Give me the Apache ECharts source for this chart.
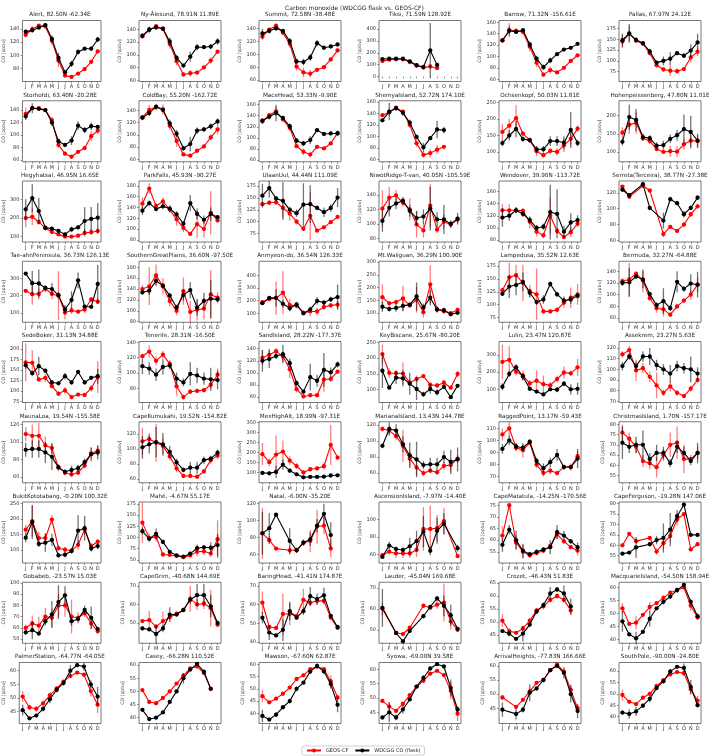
<!DOCTYPE html>
<html><head><meta charset="utf-8">
<script src="https://cdn.jsdelivr.net/npm/echarts@6/dist/echarts.min.js"></script>
<style>html,body{margin:0;padding:0;background:#fff}#c{width:709px;height:756px}</style>
</head><body><div id="c"></div>
<script>
const stations = [
"Alert, 82.50N -62.34E","Ny-Ålesund, 78.91N 11.89E","Summit, 72.58N -38.48E","Tiksi, 71.59N 128.92E","Barrow, 71.32N -156.61E","Pallas, 67.97N 24.12E",
"Storhofdi, 63.40N -20.28E","ColdBay, 55.20N -162.72E","MaceHead, 53.33N -9.90E","ShemyaIsland, 52.72N 174.10E","Ochsenkopf, 50.03N 11.81E","Hohenpeissenberg, 47.80N 11.01E",
"Hegyhatsal, 46.95N 16.65E","ParkFalls, 45.93N -90.27E","UlaanUul, 44.44N 111.09E","NiwotRidge-T-van, 40.05N -105.59E","Wendover, 39.90N -113.72E","Serreta(Terceira), 38.77N -27.38E",
"Tae-ahnPeninsula, 36.73N 126.13E","SouthernGreatPlains, 36.60N -97.50E","Anmyeon-do, 36.54N 126.33E","Mt.Waliguan, 36.29N 100.90E","Lampedusa, 35.52N 12.63E","Bermuda, 32.27N -64.88E",
"SedeBoker, 31.13N 34.88E","Tenerife, 28.31N -16.50E","SandIsland, 28.22N -177.37E","KeyBiscane, 25.67N -80.20E","Lulin, 23.47N 120.87E","Assekrem, 23.27N 5.63E",
"MaunaLoa, 19.54N -155.58E","CapeKumukahi, 19.52N -154.82E","MexHighAlt, 18.99N -97.31E","MarianaIsland, 13.43N 144.78E","RaggedPoint, 13.17N -59.43E","ChristmasIsland, 1.70N -157.17E",
"BukitKototabang, -0.20N 100.32E","Mahé, -4.67N 55.17E","Natal, -6.00N -35.20E","AscensionIsland, -7.97N -14.40E","CapeMatatula, -14.25N -170.56E","CapeFerguson, -19.28N 147.06E",
"Gobabeb, -23.57N 15.03E","CapeGrim, -40.68N 144.69E","BaringHead, -41.41N 174.87E","Lauder, -45.04N 169.68E","Crozet, -46.43N 51.83E","MacquarieIsland, -54.50N 158.94E",
"PalmerStation, -64.77N -64.05E","Casey, -66.28N 110.52E","Mawson, -67.60N 62.87E","Syowa, -69.00N 39.58E","ArrivalHeights, -77.83N 166.66E","SouthPole, -90.00N -24.80E"
];
const months = ["Jan","Feb","Mar","Apr","May","Jun","Jul","Aug","Sep","Oct","Nov","Dec"];
const monthTicks = ["J","F","M","A","M","J","J","A","S","O","N","D"];
const _ = null;

// GEOS-CF (red)
const geosCF = [
[131,140,145,144,122,92,69,67,72,79,90,106],
[129,139,145,141,117,90,69,71,72,80,91,105],
[127,138,144,133,116,81,72,70,76,80,92,106],
[130,142,145,145,122,92,75,85,70,_,_,_],
[128,146,145,143,117,89,68,76,72,80,92,102],
[145,163,147,140,118,90,80,77,76,81,108,121],
[134,143,143,140,124,84,70,65,73,79,98,107],
[129,141,146,142,115,90,68,66,74,81,96,109],
[130,141,148,133,118,85,75,70,84,81,90,109],
[137,142,150,143,120,88,68,71,77,82,_,_],
[161,180,203,156,135,102,90,103,100,120,140,171],
[153,175,180,138,130,108,100,102,101,121,131,130],
[200,207,179,145,125,112,100,100,105,120,124,130],
[147,175,143,151,136,118,102,91,109,100,130,116],
[137,140,141,129,117,100,85,112,81,88,99,110],
[121,136,139,129,120,99,91,125,92,103,99,106],
[129,129,129,128,110,94,88,120,95,85,93,107],
[128,115,_,129,123,_,68,77,72,80,93,103],
[228,208,210,240,210,200,103,115,108,120,178,165],
[140,145,165,145,118,100,136,98,102,104,130,124],
[188,212,220,262,165,160,105,115,115,150,163,168],
[162,138,143,157,130,152,103,212,114,107,100,112],
[128,153,157,142,126,120,87,87,90,104,113,120],
[123,126,136,124,94,77,75,66,80,90,100,117],
[168,167,127,131,111,93,101,85,91,90,106,133],
[122,128,116,124,112,83,69,76,77,78,85,98],
[125,130,136,127,106,73,61,63,63,89,90,102],
[213,153,152,151,122,134,143,115,113,122,106,150],
[260,272,202,180,135,150,130,123,160,198,193,228],
[114,118,99,101,93,85,78,84,78,75,82,90],
[109,107,107,96,93,71,65,63,65,73,87,90],
[110,113,108,104,90,74,64,64,63,70,85,91],
[192,152,190,205,160,133,101,117,121,132,238,175],
[115,113,106,94,78,67,60,63,61,69,70,78],
[105,110,94,92,98,80,73,75,73,78,78,87],
[76,73,69,62,61,59,65,70,71,63,63,66],
[165,193,138,138,198,105,100,97,116,165,112,126],
[133,99,101,62,61,59,56,60,68,69,64,96],
[85,77,67,_,65,65,74,76,93,94,67,_],
[59,63,61,61,61,65,89,89,90,98,_,58],
[62,75,59,55,53.5,54.5,55.5,57.5,62.5,59.5,57,55.5],
[60,65.5,62,_,63.5,57,61,64.5,72.5,75,58,60.5],
[60,64,62,70,69,80,80,70,69,73,64,57],
[51,51.5,48,51,53,55,57,63,60,60.5,58,49],
[61,48,47.5,55,55,54,62.5,61,62,62,53,47.5],
[60,_,48.5,48,51,_,61.5,60.5,62,63,54,50],
[50.5,46.5,45.8,47.5,50.5,54.5,56,58.5,60,58.5,54.5,_],
[52,46,46.5,49.5,52.5,54,56,58,59,60,53,48.5],
[50.5,46.5,46,48,51,53.5,56,58,59.3,58.5,52.5,47.5],
[50.5,46,45.5,47.5,50,53,56,58.8,59.5,57,51,_],
[47,44.5,46,48,50.5,54,55.5,58,59,58,53,46.5],
[49,47,45.5,48,51,54,56,58.5,59.5,58,52.5,44.5],
[48.8,_,45.5,48,51,54,55,58.5,60.5,58,51.5,45],
[49.5,46.5,45.5,48.3,50,53.5,56,58.5,59.5,59,52,47]
];
const geosErr = [
[3,5,2,2,6,10,3,2,2,2,2,2],
[3,5,2,2,7,7,3,5,3,2,5,3],
[5,3,2,3,6,6,7,6,3,3,3,4],
[8,6,6,6,6,6,6,15,10,_,_,_],
[3,12,3,2,8,8,4,6,3,2,2,2],
[15,18,5,4,6,6,6,12,6,4,12,10],
[10,3,3,3,5,5,3,2,3,3,8,5],
[4,8,4,8,6,10,3,3,3,2,5,8],
[5,3,8,3,5,3,6,5,3,3,3,4],
[2,6,3,4,5,6,5,7,8,3,_,_],
[25,20,40,8,8,15,8,10,12,20,20,10],
[15,25,30,8,8,5,5,15,15,15,15,15],
[50,45,15,10,8,8,6,8,10,20,18,15],
[12,10,5,8,6,12,8,4,25,15,40,4],
[5,5,5,20,15,6,5,50,3,4,4,3],
[25,15,8,5,15,18,10,30,5,10,5,5],
[10,10,5,5,10,8,5,30,5,3,8,5],
[2,2,_,2,2,_,4,2,2,3,3,3],
[8,60,30,20,30,140,40,20,5,20,15,15],
[8,35,20,15,10,8,25,20,20,20,45,10],
[15,10,130,170,50,20,15,40,30,20,20,30],
[50,10,10,50,8,50,20,75,15,10,5,10],
[3,28,20,35,12,50,4,5,5,10,20,20],
[5,28,3,20,4,8,12,3,5,4,8,12],
[45,30,5,10,5,5,8,3,3,5,8,38],
[3,8,6,5,5,12,3,3,3,3,5,8],
[12,10,5,8,15,5,3,3,3,20,5,3],
[30,15,10,35,10,10,5,10,8,10,5,10],
[100,80,20,30,20,60,50,20,20,35,15,50],
[3,4,10,5,5,12,3,5,3,2,3,3],
[8,13,15,10,6,4,3,3,3,3,6,6],
[18,8,25,10,5,5,3,3,2,3,5,5],
[55,20,95,55,20,15,10,10,10,15,100,10],
[3,5,5,20,10,10,4,3,3,5,8,5],
[5,7,3,6,2,3,3,3,2,2,3,4],
[4,3,3,3,3,5,3,6,8,7,2,3],
[15,50,20,15,15,10,10,8,15,15,10,8],
[45,10,10,3,3,2,2,3,10,8,8,42],
[30,5,2,_,5,3,4,13,20,10,10,_],
[2,3,5,5,5,8,25,27,15,15,_,2],
[4,1,3,3,1,1,1,1,2,1,1,2],
[0.5,0.5,1,_,0.5,1.5,3,3,3,0.5,0.5,0.5],
[3,7,8,8,8,10,10,15,5,3,5,2],
[1,5,1,5,1,1,1,7,3,3,10,1],
[6,1,1,11,6,1,6,2,2,2,1,1],
[3,_,1,1,1,_,1,1,2,9,4,1],
[2.5,1,0.5,1,1,1,1,1,1,1,2,_],
[2,0.5,2.5,0.5,2,0.5,1,0.5,0.5,0.5,2,1],
[2,1,1,1,1,0.5,0.5,0.5,0.5,0.5,2,3],
[0.5,0.5,0.5,0.5,0.5,0.5,0.5,0.5,0.5,0.5,0.5,_],
[2.5,0.5,0.5,0.5,0.5,0.5,0.5,0.5,0.5,0.5,2.5,1],
[0.5,1.5,0.5,0.5,0.5,0.5,0.5,0.5,0.5,0.5,3,2.5],
[1,_,0.5,0.5,1,0.5,0.5,0.5,0.5,0.5,2,1],
[2.5,0.5,0.5,1,1,0.5,0.5,0.5,0.5,1,2.5,2]
];

// WDCGG CO flask (black)
const wdcgg = [
[136,138,142,146,125,96,74,87,105,110,110,124],
[130,140,143,141,121,95,83,97,112,112,113,121],
[132,136,140,136,120,89,88,95,117,110,112,115],
[147,150,150,150,128,95,80,220,98,_,_,_],
[128,145,143,146,121,96,81,93,104,112,115,122],
[148,164,149,141,122,96,100,105,118,112,124,143],
[130,143,142,140,120,90,84,91,115,108,114,113],
[128,136,146,141,119,102,78,85,107,109,114,122],
[131,138,145,136,121,95,90,96,114,107,108,108],
[128,143,149,141,124,99,81,97,112,111,_,_],
[127,150,170,139,136,108,108,133,133,128,167,127],
[128,196,188,141,138,117,119,136,146,163,155,131],
[247,307,238,148,143,131,112,139,150,184,195,202],
[134,148,137,142,138,127,110,148,128,117,128,122],
[155,171,149,144,125,118,136,137,129,120,129,151],
[104,122,128,132,118,108,110,121,106,106,100,107],
[117,120,129,123,113,100,102,126,123,94,109,113],
[124,117,_,131,101,_,85,112,107,93,101,114],
[327,272,270,244,238,203,120,175,288,137,136,267],
[134,137,155,146,128,106,129,138,106,118,122,121],
[180,222,222,175,140,170,100,130,198,185,210,228],
[125,116,120,128,133,165,122,160,114,111,95,101],
[121,135,138,144,123,105,110,140,120,108,110,117],
[120,121,131,126,101,82,89,77,122,110,119,117],
[161,142,159,148,120,118,135,120,145,120,131,135],
[109,106,98,108,110,93,88,99,97,93,92,91],
[120,123,128,131,116,83,69,93,87,105,101,114],
[160,106,138,136,119,102,85,102,91,109,76,112],
[115,190,228,175,103,87,70,100,98,133,100,103],
[103,112,103,112,112,104,100,96,103,101,100,96],
[91,92,92,88,83,71,66,68,70,77,86,88],
[102,106,109,106,96,82,72,75,75,85,87,95],
[99,97,104,140,110,92,77,79,79,80,86,87],
[94,115,113,96,82,77,70,71,71,80,74,77],
[93,100,95,94,99,83,77,82,88,78,78,85],
[71,69,70,70,63,66,66,61,69,66,62,66],
[139,190,119,123,132,82,84,96,162,170,104,112],
[114,97,108,90,68,60,57,64,76,78,77,83],
[85,91,107,_,76,65,74,78,94,108,83,_],
[57,70,66,65,69,75,86,64,87,95,_,67],
[58,64.5,60,55.5,54,55,56,57,63.5,62,59.5,57],
[56,56.5,59,_,60.5,62.5,63.5,67.5,74,79.5,65,65],
[56,58,55,66,72,83,89,66,68,76,69,59],
[47,46.5,44,47,54.5,54.5,57,62.5,65,65,59,50],
[53,45,43.5,46.5,56.5,53,56.5,64.5,63,65,54,48],
[60.5,_,48.5,44.5,49.5,_,56.5,61,65,61.5,57,50.5],
[46.5,45.5,43.5,45.5,49,54,56.5,61,62.5,61,56,_],
[47,42,40.5,43,48,52,54.5,56.5,59,61,54.5,49],
[45.5,42.5,43.5,46,49.5,53,55.5,60,62,61.5,55,50.5],
[43,39.5,40,42,46,50,55,58.3,60.5,57.5,51,_],
[39,37.5,39.5,42.5,45,50,52.5,57,59.3,57,52,43.5],
[43.2,45,43.2,46,49.5,54,57,60.3,61.8,61,53.5,46],
[44.5,_,43,44.5,50.5,52,55,58.5,60,57.5,50,44],
[41.8,41.2,42.3,44.8,47.8,52.5,55.5,59.8,61.8,61.3,53,45]
];
const wdcggErr = [
[3,3,2,3,5,8,3,5,4,2,3,3],
[4,4,3,2,6,5,3,8,5,3,4,5],
[7,4,4,3,5,4,5,5,5,2,3,2],
[8,8,6,6,8,6,6,230,10,_,_,_],
[3,8,3,2,5,5,5,5,3,2,2,3],
[15,22,6,4,6,5,10,15,5,5,15,20],
[5,8,3,3,5,4,3,7,7,5,6,3],
[4,5,5,4,6,6,4,12,5,4,5,5],
[5,5,15,4,5,5,5,7,3,3,3,5],
[3,15,4,5,5,4,8,3,15,6,_,_],
[10,15,25,8,8,10,10,15,15,20,55,10],
[10,35,30,10,8,10,12,12,15,40,45,20],
[55,75,70,10,8,8,10,15,12,75,65,80],
[8,5,4,5,6,6,5,15,10,8,12,4],
[25,20,5,40,5,8,45,40,5,10,8,20],
[15,12,8,5,8,10,10,30,10,20,5,8],
[15,8,5,5,5,5,5,45,40,10,15,8],
[3,3,_,3,3,_,10,3,3,4,3,3],
[8,70,80,15,35,20,25,50,45,10,10,110],
[5,8,8,5,5,5,10,15,15,15,35,5],
[15,8,70,30,20,20,10,20,30,20,20,100],
[20,10,15,20,8,55,15,30,10,10,5,5],
[4,22,20,18,8,5,8,5,5,8,8,5],
[5,25,4,15,4,5,22,5,18,5,16,22],
[8,5,22,5,5,5,8,5,5,5,5,18],
[10,8,8,10,5,8,5,15,10,8,15,12],
[18,15,5,15,8,5,3,22,10,28,8,5],
[55,5,20,25,35,35,8,15,10,8,5,5],
[20,20,20,20,10,10,8,10,15,15,30,35],
[4,3,4,5,8,5,5,8,5,5,12,6],
[8,10,10,12,15,3,3,5,4,4,8,8],
[15,12,20,15,8,5,3,8,8,5,4,4],
[8,10,30,25,10,8,5,5,5,5,5,5],
[3,8,8,10,16,22,5,8,8,8,15,15],
[4,4,3,3,2,3,4,4,5,2,2,8],
[8,3,4,7,3,4,3,2,3,3,2,5],
[15,55,10,30,20,8,8,8,50,40,10,10],
[8,5,12,5,3,2,2,4,8,5,12,25],
[25,18,2,_,15,3,3,8,8,12,15,_],
[2,4,3,3,10,12,18,5,15,12,_,4],
[3,2,4,3,1,1,1,3,3,2,1,2],
[0.5,0.5,5,_,1,2,7,8,3,1,0.5,0.5],
[2,8,2,3,12,15,8,4,3,4,10,2],
[1,1,5,2,4,1,1,2,6,6,6,1],
[3,4,1,6,5,1,2,5,3,4,1,1],
[9,_,1,1,1,_,1,1,1,5,5,1],
[0.5,1,0.5,3,1,1,1,2.5,1,3,3,_],
[4,0.5,2.5,0.5,3,0.5,1,1,1,0.5,1,1],
[2,0.5,0.5,1,1.5,1,1,2,0.5,1.5,1.5,3.5],
[0.5,0.5,0.5,0.5,0.5,0.5,2,0.5,0.5,0.5,0.5,_],
[2.5,0.5,1,0.5,1,1,0.5,1,1,0.5,2,3],
[0.5,3.5,1,1.5,0.5,0.5,1,0.5,0.5,0.5,3,1],
[2.5,_,2,1,3,0.5,0.5,0.5,0.5,2,3,2.5],
[1,2,2,1,1.5,1,1,1,0.5,2,3,1]
];

// y tick labels per panel
const yTicks = [
[80,100,120,140],[60,80,100,120,140],[60,80,100,120,140],[0,100,200,300,400],[60,80,100,120,140,160],[75,100,125,150,175],
[60,80,100,120,140],[60,80,100,120,140],[60,80,100,120,140,160],[60,80,100,120,140,160],[100,150,200,250],[100,150,200],
[100,200,300],[80,100,120,140,160,180],[75,100,125,150,175],[80,100,120,140],[80,100,120,140,160],[60,80,100,120],
[100,200,300],[80,100,120,140,160,180],[100,200,300,400],[100,150,200,250,300],[75,100,125,150,175],[60,80,100,120,140],
[75,100,125,150,175,200],[80,100,120,140],[60,80,100,120,140],[100,150,200,250],[100,200,300],[70,80,90,100,110,120],
[60,80,100,120],[60,80,100,120],[100,150,200,250,300,350],[60,80,100,120],[70,80,90,100,110],[55,60,65,70,75,80],
[100,150,200,250],[50,75,100,125,150,175],[60,80,100,120],[60,80,100],[55,60,65,70,75],[55,60,65,70,75,80],
[50,60,70,80,90,100],[50,60,70],[40,50,60,70],[50,60,70],[45,50,55,60,65],[40,45,50,55,60],
[45,50,55,60],[40,45,50,55,60],[40,45,50,55,60],[45,50,55,60],[45,50,55,60],[40,45,50,55,60]
];
// y axis limits per panel
const yLimits = [
[60,153],[58,154],[58,152],[-42,472],[56,163],[52,194],
[57,155],[56,156],[57,167],[56,162],[70,256],[73,241],
[71,400],[76,189],[57,186],[75,159],[77,177],[58,135],
[47,398],[79,191],[30,510],[64,303],[66,184],[53,157],
[72,218],[62,141],[51,152],[59,253],[23,379],[69,126],
[53.5,123],[55,136],[50,353],[48,124],[65,115.5],[51.4,81.3],
[57,255],[43,179],[50,122],[50,120],[50.2,76.4],[51.5,80.8],
[46.4,100.6],[39,72],[39.3,72],[43.6,72.7],[41.8,65.3],[38.6,62],
[40.6,63],[37.8,61],[35.9,60.7],[41.1,62.4],[39.6,61.2],[37,63.7]
];

const FONT = 'DejaVu Sans';
const grids = [], xAxes = [], yAxes = [], series = [], graphics = [];

function errSeries(i, vals, errs, color, z) {
  const data = [];
  vals.forEach((v, j) => { if (v != null && errs[j] != null) data.push([j, v, errs[j]]); });
  return {
    type: 'custom', xAxisIndex: i, yAxisIndex: i, z: z, silent: true, animation: false,
    encode: { x: 0, y: 1 }, clip: true,
    renderItem: function (params, api) {
      const x = api.value(0), v = api.value(1), e = api.value(2);
      const a = api.coord([x, v - e]), b = api.coord([x, v + e]);
      return { type: 'line', shape: { x1: a[0], y1: a[1], x2: b[0], y2: b[1] },
               style: { stroke: color, lineWidth: 1.3 } };
    },
    data: data
  };
}
function lineSeries(i, name, vals, color, z) {
  return {
    type: 'line', name: name, xAxisIndex: i, yAxisIndex: i, z: z, silent: true, animation: false,
    data: vals, connectNulls: true, symbol: 'circle', symbolSize: 4.3, showSymbol: true,
    itemStyle: { color: color }, lineStyle: { color: color, width: 1.1 },
    emphasis: { disabled: true }
  };
}

stations.forEach((name, i) => {
  const col = i % 6, row = Math.floor(i / 6);
  const left = 19 + 120 * col, top = 20.5 + 80.25 * row, w = 82, h = 61;
  grids.push({ left: left, top: top, width: w, height: h, show: true, borderColor: '#555', borderWidth: 0.8, containLabel: false });
  xAxes.push({
    gridIndex: i, type: 'category', data: months, boundaryGap: true,
    axisLine: { show: false },
    axisTick: { show: true, alignWithLabel: true, length: 2, lineStyle: { color: '#555', width: 0.6 } },
    axisLabel: { interval: 0, fontSize: 5, color: '#333', margin: 3, fontFamily: FONT,
                 formatter: (v, idx) => monthTicks[idx] },
    splitLine: { show: false }
  });
  const maxLen = Math.max(...yTicks[i].map(t => String(t).length));
  yAxes.push({
    gridIndex: i, type: 'value', min: yLimits[i][0], max: yLimits[i][1],
    axisLine: { show: false }, splitLine: { show: false },
    axisTick: { show: true, length: 2, customValues: yTicks[i], lineStyle: { color: '#555', width: 0.6 } },
    axisLabel: { fontSize: 5, color: '#333', margin: 3, fontFamily: FONT, customValues: yTicks[i] },
    name: 'CO [ppbv]', nameLocation: 'middle', nameGap: 3.1 * maxLen + 3.5,
    nameTextStyle: { fontSize: 4.6, color: '#333', fontFamily: FONT }
  });
  graphics.push({
    type: 'text', x: left + w / 2, y: top - 5.5, silent: true,
    style: { text: name, fill: '#222', font: '5.7px "DejaVu Sans"', align: 'center', verticalAlign: 'middle',
             textAlign: 'center', textVerticalAlign: 'middle' }
  });
  series.push(errSeries(i, geosCF[i], geosErr[i], 'rgba(255,0,0,0.5)', 2));
  series.push(lineSeries(i, 'GEOS-CF', geosCF[i], '#ff0000', 3));
  series.push(errSeries(i, wdcgg[i], wdcggErr[i], 'rgba(0,0,0,0.55)', 4));
  series.push(lineSeries(i, 'WDCGG CO (flask)', wdcgg[i], '#000000', 5));
});

const chart = echarts.init(document.getElementById('c'), null, { renderer: 'canvas' });
chart.setOption({
  animation: false,
  backgroundColor: '#ffffff',
  textStyle: { fontFamily: FONT },
  title: { text: 'Carbon monoxide (WDCGG flask vs. GEOS-CF)', left: 'center', top: 0,
           textStyle: { fontSize: 6, fontWeight: 'normal', color: '#222', fontFamily: FONT } },
  legend: {
    data: ['GEOS-CF', 'WDCGG CO (flask)'], left: 302, top: 746,
    itemWidth: 14, itemHeight: 5, itemGap: 6,
    textStyle: { fontSize: 5, color: '#222', fontFamily: FONT },
    borderColor: '#bbb', borderWidth: 0.7, borderRadius: 2, padding: [2, 4, 2, 4]
  },
  grid: grids, xAxis: xAxes, yAxis: yAxes, series: series, graphic: graphics
});
</script></body></html>
